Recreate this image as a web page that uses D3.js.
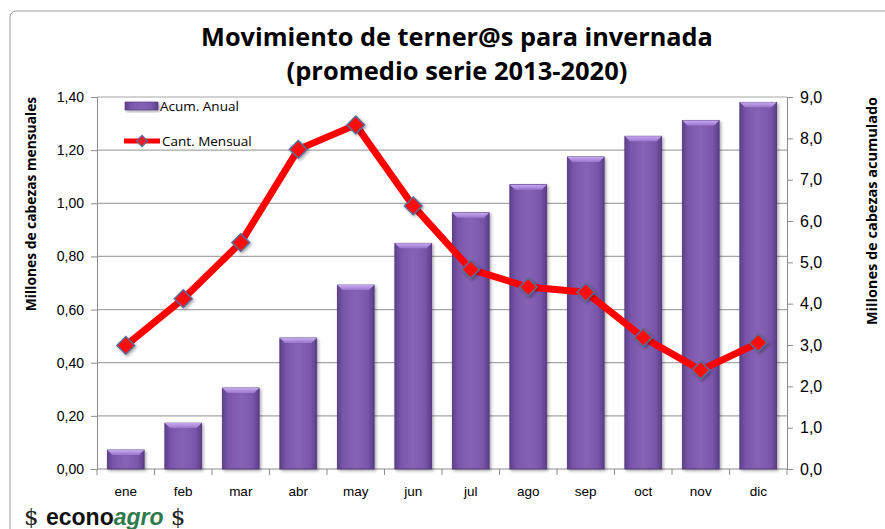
<!DOCTYPE html>
<html>
<head>
<meta charset="utf-8">
<script src="https://cdn.jsdelivr.net/npm/d3@7"></script>
<style>
  body { margin: 0; background: #fff; }
  svg { display: block; font-family: "Open Sans", "Noto Sans", sans-serif; }
  .axis text { fill: #000; }
  .axis path, .axis line { stroke: #8c8c8c; }
</style>
</head>
<body>
<svg id="chart"></svg>
<script>
// Data
const months = ["ene", "feb", "mar", "abr", "may", "jun", "jul", "ago", "sep", "oct", "nov", "dic"];
const acumAnual = [0.46, 1.11, 1.96, 3.17, 4.45, 5.46, 6.20, 6.88, 7.55, 8.05, 8.43, 8.87];
const cantMensual = [0.465, 0.641, 0.852, 1.203, 1.295, 0.99, 0.751, 0.685, 0.665, 0.495, 0.372, 0.475];
const leftTicks = [0, 0.2, 0.4, 0.6, 0.8, 1.0, 1.2, 1.4];
const rightTicks = [0, 1, 2, 3, 4, 5, 6, 7, 8, 9];

const W = 885, H = 529;
const margin = { top: 97, right: 98, bottom: 60, left: 97 };
const width = W - margin.left - margin.right;
const height = H - margin.top - margin.bottom;

const svg = d3.select("#chart").attr("width", W).attr("height", H);

// outer frame
svg.append("rect")
  .attr("x", 10).attr("y", 11)
  .attr("width", 900).attr("height", 600)
  .attr("rx", 6)
  .attr("fill", "none")
  .attr("stroke", "#9a9a9a");

const defs = svg.append("defs");
const barGrad = defs.append("linearGradient").attr("id", "barGrad")
  .attr("x1", "0").attr("x2", "1").attr("y1", "0").attr("y2", "0");
barGrad.append("stop").attr("offset", "0%").attr("stop-color", "#5f4190");
barGrad.append("stop").attr("offset", "18%").attr("stop-color", "#7a57ab");
barGrad.append("stop").attr("offset", "50%").attr("stop-color", "#8563b5");
barGrad.append("stop").attr("offset", "82%").attr("stop-color", "#7a57ab");
barGrad.append("stop").attr("offset", "100%").attr("stop-color", "#5c3e8c");

const topGrad = defs.append("linearGradient").attr("id", "topGrad")
  .attr("x1", "0").attr("x2", "0").attr("y1", "0").attr("y2", "1");
topGrad.append("stop").attr("offset", "0%").attr("stop-color", "#c7a8f0");
topGrad.append("stop").attr("offset", "100%").attr("stop-color", "#9a76cc");

const shadow = defs.append("filter").attr("id", "shadow")
  .attr("x", "-30%").attr("y", "-30%").attr("width", "160%").attr("height", "160%");
shadow.append("feDropShadow").attr("dx", 1.5).attr("dy", 1.5)
  .attr("stdDeviation", 1.5).attr("flood-color", "#000").attr("flood-opacity", 0.35);

const chart = svg.append("g")
  .attr("transform", `translate(${margin.left},${margin.top})`);

// Scales
const x = d3.scaleBand().domain(months).range([0, width]).paddingInner(0.36).paddingOuter(0.18);
const xCenter = d => x(d) + x.bandwidth() / 2;
const yLeft = d3.scaleLinear().domain([0, 1.4]).range([height, 0]);
const yRight = d3.scaleLinear().domain([0, 9]).range([height, 0]);

// Gridlines
chart.append("g")
  .selectAll("line")
  .data(leftTicks.slice(1))
  .join("line")
  .attr("x1", 0).attr("x2", width)
  .attr("y1", d => yLeft(d)).attr("y2", d => yLeft(d))
  .attr("stroke", "#a6a6a6").attr("stroke-width", 1.2);

// Axes
const fmt2 = d3.format(".2f");
const fmt1 = d3.format(".1f");

const leftAxis = chart.append("g").attr("class", "axis")
  .call(d3.axisLeft(yLeft).tickValues(leftTicks).tickSize(6).tickPadding(7)
    .tickFormat(d => fmt2(d).replace(".", ",")));
leftAxis.selectAll("text").style("font-size", "14px");

const rightAxis = chart.append("g").attr("class", "axis")
  .attr("transform", `translate(${width},0)`)
  .call(d3.axisRight(yRight).tickValues(rightTicks).tickSize(6).tickPadding(7)
    .tickFormat(d => fmt1(d).replace(".", ",")));
rightAxis.selectAll("text").style("font-size", "16px");

const bottomAxis = chart.append("g").attr("class", "axis")
  .attr("transform", `translate(0,${height})`)
  .call(d3.axisBottom(x).tickSize(0).tickPadding(17));
bottomAxis.select(".domain").attr("d", `M0,0H${width}`);
bottomAxis.selectAll("text").style("font-size", "13.5px");

// category separators on the x axis
chart.append("g")
  .selectAll("line")
  .data(d3.range(months.length + 1))
  .join("line")
  .attr("x1", i => i * width / months.length)
  .attr("x2", i => i * width / months.length)
  .attr("y1", height).attr("y2", height + 6)
  .attr("stroke", "#8c8c8c");

// Bars
const bars = chart.append("g").selectAll("g")
  .data(months.map((m, i) => ({ m, v: acumAnual[i] })))
  .join("g")
  .attr("filter", "url(#shadow)");

bars.append("rect")
  .attr("x", d => x(d.m))
  .attr("y", d => yRight(d.v))
  .attr("width", x.bandwidth())
  .attr("height", d => height - yRight(d.v))
  .attr("fill", "url(#barGrad)")
  .attr("stroke", "#4e3577")
  .attr("stroke-width", 0.8);

const bev = 5;
bars.append("path")
  .attr("d", d => {
    const x0 = x(d.m), x1 = x0 + x.bandwidth(), y0 = yRight(d.v);
    return `M${x0},${y0}H${x1}L${x1 - bev},${y0 + bev}H${x0 + bev}Z`;
  })
  .attr("fill", "url(#topGrad)");

// Line
const line = d3.line()
  .x((d, i) => xCenter(months[i]))
  .y(d => yLeft(d));

chart.append("path")
  .datum(cantMensual)
  .attr("d", line)
  .attr("fill", "none")
  .attr("stroke", "#ff0000")
  .attr("stroke-width", 7)
  .attr("stroke-linejoin", "round");

const diamond = d3.symbol().type(d3.symbolDiamond2).size(200);
chart.append("g").selectAll("path")
  .data(cantMensual)
  .join("path")
  .attr("transform", (d, i) => `translate(${xCenter(months[i])},${yLeft(d)})`)
  .attr("d", diamond)
  .attr("fill", "#ff1010")
  .attr("stroke", "#5b6b95")
  .attr("stroke-width", 1.5)
  .attr("filter", "url(#shadow)");

// Legend
const legend = svg.append("g");
legend.append("rect")
  .attr("x", 125).attr("y", 102).attr("width", 33).attr("height", 8)
  .attr("fill", "url(#barGrad)").attr("stroke", "#4e3577").attr("stroke-width", 0.6)
  .attr("filter", "url(#shadow)");
legend.append("text")
  .attr("x", 160).attr("y", 111)
  .style("font-size", "13.5px")
  .text("Acum. Anual");
legend.append("line")
  .attr("x1", 124).attr("x2", 160).attr("y1", 141).attr("y2", 141)
  .attr("stroke", "#ff0000").attr("stroke-width", 5);
legend.append("path")
  .attr("transform", "translate(142,141)")
  .attr("d", d3.symbol().type(d3.symbolDiamond2).size(80))
  .attr("fill", "#e8202a").attr("stroke", "#5b6b95").attr("stroke-width", 1.2);
legend.append("text")
  .attr("x", 162).attr("y", 146)
  .style("font-size", "13.5px")
  .text("Cant. Mensual");

// Titles
svg.append("text")
  .attr("x", 457).attr("y", 46)
  .attr("text-anchor", "middle")
  .style("font-size", "25.3px").style("font-weight", "bold")
  .text("Movimiento de terner@s para invernada");
svg.append("text")
  .attr("x", 457).attr("y", 80)
  .attr("text-anchor", "middle")
  .style("font-size", "25.5px").style("font-weight", "bold")
  .text("(promedio serie 2013-2020)");

svg.append("text")
  .attr("transform", "translate(36,204) rotate(-90)")
  .attr("text-anchor", "middle")
  .style("font-size", "13.8px").style("font-weight", "bold")
  .text("Millones de cabezas mensuales");

svg.append("text")
  .attr("transform", "translate(877,211) rotate(-90)")
  .attr("text-anchor", "middle")
  .style("font-size", "14.5px").style("font-weight", "bold")
  .text("Millones de cabezas  acumulado");

// Logo
const logo = svg.append("text").attr("x", 24).attr("y", 525)
  .style("font-size", "23px").style("font-weight", "bold");
logo.append("tspan").style("font-family", "'DejaVu Serif', serif").style("font-weight", "normal")
  .attr("fill", "#222").text("$ ");
logo.append("tspan").attr("fill", "#111")
  .style("font-family", "'Liberation Sans', Arial, sans-serif").text("econo");
logo.append("tspan").attr("fill", "#2f7a4b").style("font-style", "italic")
  .style("font-family", "'Liberation Sans', Arial, sans-serif").text("agro");
logo.append("tspan").style("font-family", "'DejaVu Serif', serif").style("font-weight", "normal")
  .attr("fill", "#222").text(" $");
</script>
</body>
</html>
